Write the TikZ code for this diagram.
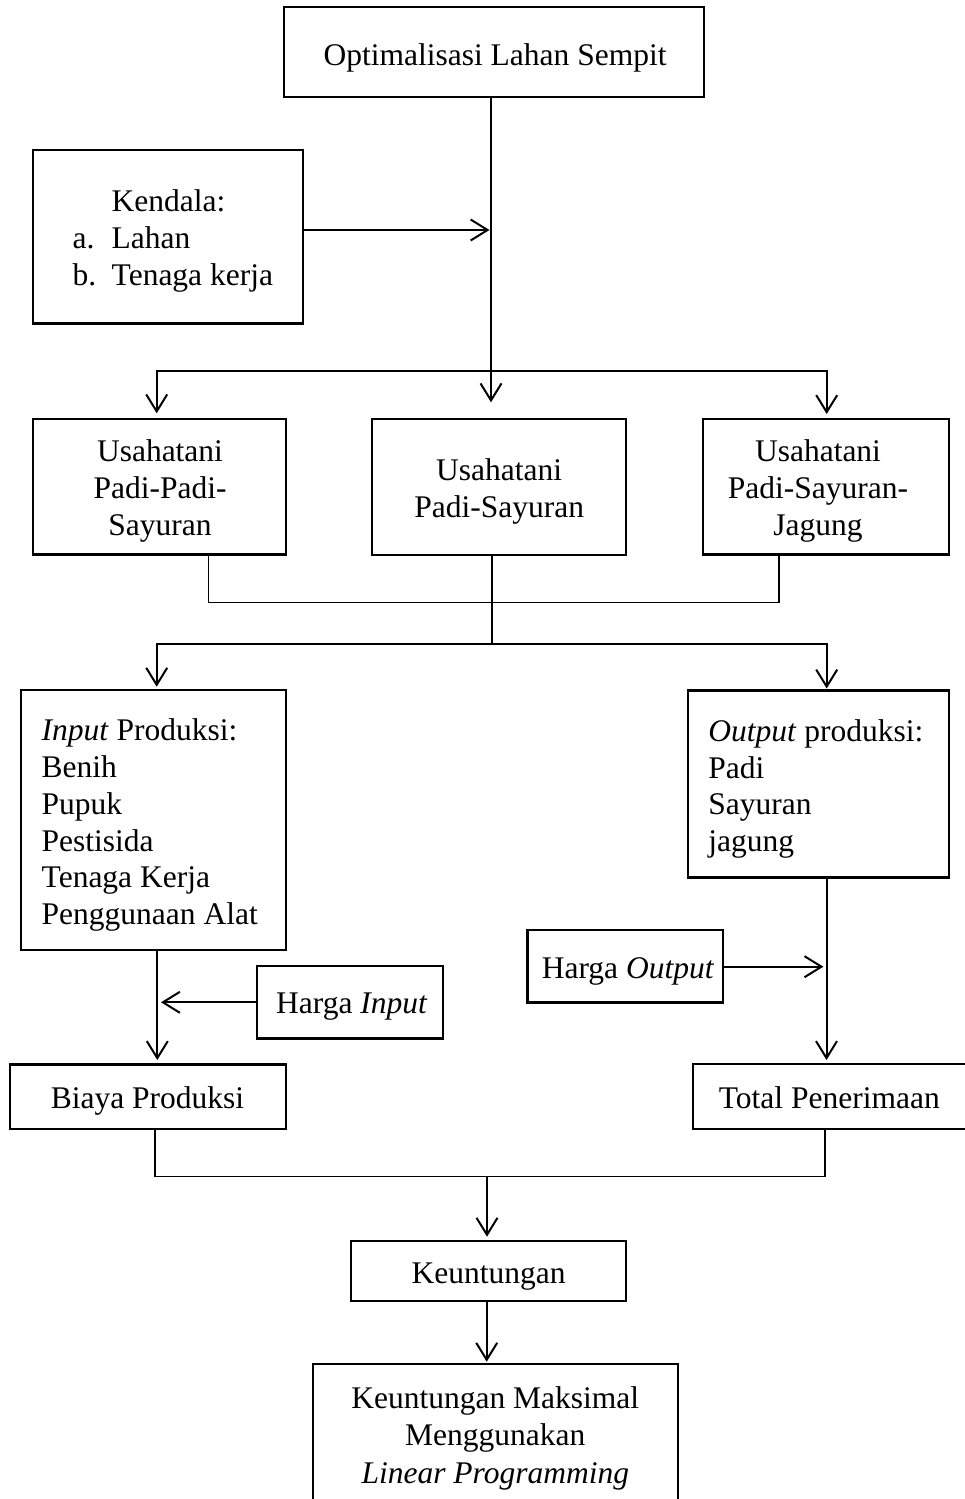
\documentclass[tikz,border=0pt]{standalone}
\usepackage{fontspec}
\setmainfont{Liberation Serif}
\usetikzlibrary{arrows.meta}
\begin{document}
\begin{tikzpicture}[x=1pt,y=-1pt,
  box/.style={draw,line width=2.3pt,inner sep=0pt,outer sep=0pt},
  txt/.style={inner sep=0pt,outer sep=0pt,font=\fontsize{31.5}{36.5}\selectfont},
  arr/.style={line width=2pt,-{Straight Barb[length=17pt,width=21pt]}},
  ln/.style={line width=1.6pt}]
\useasboundingbox (0,0) rectangle (965,1499);
\clip (0,0) rectangle (965,1499);

% boxes
\node[box,minimum width=420pt,minimum height=89.4pt] (top) at (494,52) {};
\node[box,minimum width=270.6pt,minimum height=173.3pt] (kendala) at (168,236.7) {};
\node[box,minimum width=253pt,minimum height=135.3pt] (u1) at (159.2,486.7) {};
\node[box,minimum width=253.4pt,minimum height=135.4pt] (u2) at (499,487) {};
\node[box,minimum width=246.6pt,minimum height=135.3pt] (u3) at (826,486.7) {};
\node[box,minimum width=264.7pt,minimum height=260pt] (input) at (153.3,820) {};
\node[box,minimum width=261pt,minimum height=187pt] (output) at (818.8,784) {};
\node[box,minimum width=186.6pt,minimum height=72.3pt] (hinput) at (350,1002.2) {};
\node[box,minimum width=195.6pt,minimum height=72.3pt] (houtput) at (625.2,966.2) {};
\node[box,minimum width=275.7pt,minimum height=64.7pt] (biaya) at (147.9,1096.7) {};
\node[box,minimum width=274pt,minimum height=65pt] (total) at (830,1096.8) {};
\node[box,minimum width=275pt,minimum height=60pt] (keunt) at (488.2,1270.7) {};
\node[box,minimum width=364.7pt,minimum height=138pt] (final) at (495.3,1433) {};

% texts
\node[txt,anchor=base] at (495,65.5) {Optimalisasi Lahan Sempit};
\node[txt,anchor=base west] at (111.7,211.7) {Kendala:};
\node[txt,anchor=base west] at (72.7,248.3) {a.};
\node[txt,anchor=base west] at (111.7,248.3) {Lahan};
\node[txt,anchor=base west] at (72.7,285.7) {b.};
\node[txt,anchor=base west] at (111.7,285.7) {Tenaga kerja};
\node[txt,anchor=base] at (160,461) {Usahatani};
\node[txt,anchor=base] at (160,498.3) {Padi-Padi-};
\node[txt,anchor=base] at (160,535) {Sayuran};
\node[txt,anchor=base] at (499.2,480) {Usahatani};
\node[txt,anchor=base] at (499.2,517.5) {Padi-Sayuran};
\node[txt,anchor=base] at (818,461) {Usahatani};
\node[txt,anchor=base] at (818,498.3) {Padi-Sayuran-};
\node[txt,anchor=base] at (818,535) {Jagung};
\foreach \t [count=\i] in {{\textit{Input} Produksi:},Benih,Pupuk,Pestisida,Tenaga Kerja,Penggunaan Alat}
  \node[txt,anchor=base west] at (41.7,{740.7+36.8*(\i-1)}) {\t};
\foreach \t [count=\i] in {{\textit{Output} produksi:},Padi,Sayuran,jagung}
  \node[txt,anchor=base west] at (708.3,{741.3+36.8*(\i-1)}) {\t};
\node[txt,anchor=base] at (351.8,1013) {Harga \textit{Input}};
\node[txt,anchor=base] at (628,978) {Harga \textit{Output}};
\node[txt,anchor=base] at (147.5,1108.5) {Biaya Produksi};
\node[txt,anchor=base] at (829.3,1108) {Total Penerimaan};
\node[txt,anchor=base] at (488.7,1283.5) {Keuntungan};
\node[txt,anchor=base] at (495.3,1408) {Keuntungan Maksimal};
\node[txt,anchor=base] at (495.3,1445) {Menggunakan};
\node[txt,anchor=base] at (495.3,1483) {\textit{Linear Programming}};

% connectors
\coordinate (mtip) at (491,402.3);
\draw[arr] (top.south -| mtip) -- (mtip);
\coordinate (ktip) at (489.5,230);
\draw[arr] (kendala.east |- ktip) -- (ktip);
\coordinate (j1) at (491,371);
\coordinate (t1) at (156.7,413.3);
\coordinate (t3) at (826.7,414);
\draw[arr] (j1) -| (t1);
\draw[arr] (j1) -| (t3);

\coordinate (s1) at (208.3,602.3);
\coordinate (s3) at (779,602.3);
\draw[ln] (u1.south -| s1) -- (s1) -- (s3) -- (u3.south -| s3);
\coordinate (j2) at (491.7,644);
\draw[ln] (u2.south -| j2) -- (j2);
\coordinate (t4) at (156.7,686.7);
\coordinate (t5) at (826.7,688.5);
\draw[arr] (j2) -| (t4);
\draw[arr] (j2) -| (t5);

\coordinate (t6) at (157.3,1060);
\draw[arr] (input.south -| t6) -- (t6);
\coordinate (t7) at (161,1002.3);
\draw[arr] (hinput.west |- t7) -- (t7);
\coordinate (t8) at (826.5,1060);
\draw[arr] (output.south -| t8) -- (t8);
\coordinate (t9) at (823.4,966.7);
\draw[arr] (houtput.east |- t9) -- (t9);

\coordinate (s4) at (155,1176.5);
\coordinate (s5) at (825.2,1176.5);
\draw[ln] (biaya.south -| s4) -- (s4) -- (s5) -- (total.south -| s5);
\coordinate (j3) at (487,1176.5);
\coordinate (t10) at (487,1236.7);
\draw[arr] (j3) -- (t10);
\coordinate (t11) at (486.7,1361.7);
\draw[arr] (keunt.south -| t11) -- (t11);
\end{tikzpicture}
\end{document}
